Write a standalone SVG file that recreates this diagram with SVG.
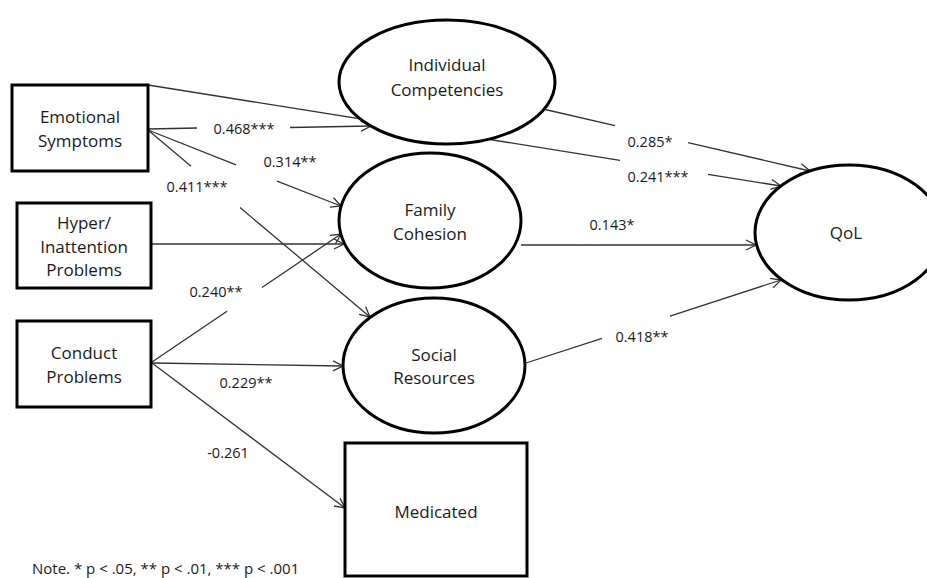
<svg xmlns="http://www.w3.org/2000/svg" width="927" height="578" viewBox="0 0 927 578">
<style>
.node{fill:#fff;stroke:#000;stroke-width:3}
.t{font-family:"Open Sans","Liberation Sans",sans-serif;font-size:17px;fill:#1a1a1a;text-anchor:middle}
.lbl{font-family:"Open Sans","Liberation Sans",sans-serif;font-size:14.5px;fill:#1a1a1a;text-anchor:middle}
.c{fill:none;stroke:#333;stroke-width:1.3;marker-end:url(#ah)}
</style>
<defs>
<marker id="ah" markerUnits="userSpaceOnUse" markerWidth="14" markerHeight="14" refX="11" refY="6" orient="auto" viewBox="0 0 14 12">
<path d="M1,1 L11,6 L1,11" fill="none" stroke="#333" stroke-width="1.3"/>
</marker>
</defs>
<g id="connectors">
<path class="c" d="M148,85 L620,160.3 M708,174.4 L781,186"/>
<path class="c" d="M148,129 L197,128 M290,127.5 L371,126"/>
<path class="c" d="M148,130 L236,164.8 M277,181.1 L341,206"/>
<path class="c" d="M148,130 L191,166.2 M240,207.5 L370,317"/>
<path class="c" d="M151,244 L344,244"/>
<path class="c" d="M152,362 L227,311.2 M262,287.5 L341,234"/>
<path class="c" d="M152,363 L343,366"/>
<path class="c" d="M152,363 L345,508"/>
<path class="c" d="M543,109 L615,125.7 M688,142.6 L810,171"/>
<path class="c" d="M521,245 L756,245"/>
<path class="c" d="M526,363 L602,338.3 M670,316.1 L781,280"/>
</g>
<g id="labels">
<text class="lbl" x="244" y="134">0.468***</text>
<text class="lbl" x="290" y="167">0.314**</text>
<text class="lbl" x="197" y="192">0.411***</text>
<text class="lbl" x="216" y="297">0.240**</text>
<text class="lbl" x="246" y="388">0.229**</text>
<text class="lbl" x="228" y="458">-0.261</text>
<text class="lbl" x="650" y="147">0.285*</text>
<text class="lbl" x="658" y="182">0.241***</text>
<text class="lbl" x="612" y="230">0.143*</text>
<text class="lbl" x="642" y="342">0.418**</text>
</g>
<g id="emotional"><rect class="node" x="12" y="85" width="136" height="86"/><text class="t" x="80" y="123">Emotional</text><text class="t" x="80" y="147">Symptoms</text></g>
<g id="hyper"><rect class="node" x="17" y="203" width="134" height="85"/><text class="t" x="84" y="229">Hyper/</text><text class="t" x="84" y="253">Inattention</text><text class="t" x="84" y="276">Problems</text></g>
<g id="conduct"><rect class="node" x="17" y="321" width="134" height="86"/><text class="t" x="84" y="359">Conduct</text><text class="t" x="84" y="383">Problems</text></g>
<g id="individual"><ellipse class="node" cx="447" cy="82" rx="108" ry="62"/><text class="t" x="447" y="71">Individual</text><text class="t" x="447" y="96">Competencies</text></g>
<g id="family"><ellipse class="node" cx="430" cy="220.5" rx="91" ry="67.5"/><text class="t" x="430" y="216">Family</text><text class="t" x="430" y="240">Cohesion</text></g>
<g id="social"><ellipse class="node" cx="434" cy="365.5" rx="91" ry="67.5"/><text class="t" x="434" y="361">Social</text><text class="t" x="434" y="384">Resources</text></g>
<g id="medicated"><rect class="node" x="345" y="443" width="182" height="133"/><text class="t" x="436" y="518">Medicated</text></g>
<g id="qol"><ellipse class="node" cx="849" cy="232.5" rx="94" ry="67.5"/><text class="t" x="846" y="239">QoL</text></g>
<text class="lbl" x="32" y="574" style="text-anchor:start;font-size:15px">Note. * p &lt; .05, ** p &lt; .01, *** p &lt; .001</text>
</svg>
